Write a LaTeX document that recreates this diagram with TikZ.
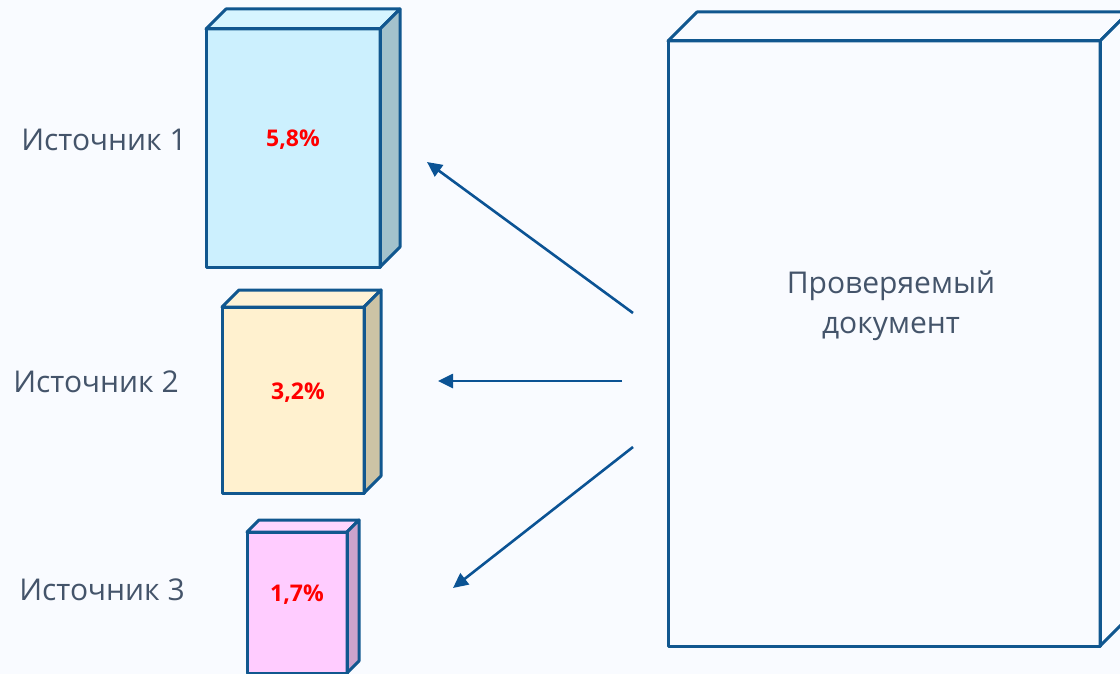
\documentclass[tikz,border=0pt]{standalone}
\usepackage{fontspec}
\setmainfont{Open Sans}
\usetikzlibrary{arrows.meta,calc}
\definecolor{bgc}{HTML}{F9FBFF}
\definecolor{edge}{HTML}{11578F}
\definecolor{arrc}{HTML}{0B5394}
\definecolor{txt}{HTML}{44546A}
\definecolor{pct}{HTML}{FF0000}
\definecolor{aF}{HTML}{CCF0FE}
\definecolor{aT}{HTML}{D6F5FF}
\definecolor{aS}{HTML}{A3C2CC}
\definecolor{bF}{HTML}{FFF1CF}
\definecolor{bT}{HTML}{FFF3D6}
\definecolor{bS}{HTML}{CCC3A5}
\definecolor{cF}{HTML}{FFCCFF}
\definecolor{cT}{HTML}{FFD6FF}
\definecolor{cS}{HTML}{CCA3CC}
\tikzset{
  boxface/.style={draw=edge, line width=3pt, line join=round},
  srclabel/.style={text=txt, font=\fontsize{30}{34}\selectfont, inner sep=0pt},
  pctlabel/.style={text=pct, font=\fontsize{23}{27}\selectfont\bfseries, inner sep=0pt},
  doclabel/.style={text=txt, font=\fontsize{30}{40}\selectfont, align=center, inner sep=0pt},
  link/.style={draw=arrc, line width=2.6pt, -{Triangle[length=15pt,width=14pt]}}
}
% #1 x1, #2 y1 (top), #3 x2, #4 y2 (bottom), #5 depth, #6 front, #7 top, #8 side
\newcommand\cuboidbox[8]{%
  \fill[#6] (#1,#2) rectangle (#3,#4);
  \filldraw[boxface, fill=#7] (#1,#2) -- ++(#5,-#5) -- ($(#3,#2)+(#5,-#5)$) -- (#3,#2) -- cycle;
  \filldraw[boxface, fill=#8] (#3,#2) -- ++(#5,-#5) -- ($(#3,#4)+(#5,-#5)$) -- (#3,#4) -- cycle;
  \draw[boxface] (#1,#2) rectangle (#3,#4);
}
\begin{document}
\begin{tikzpicture}[x=1pt, y=-1pt]
  \fill[bgc] (0,0) rectangle (1120,674);
  \useasboundingbox (0,0) rectangle (1120,674);
  \begin{scope}
    \clip (0,0) rectangle (1120,674);
    % source boxes
    \cuboidbox{206}{29}{380}{267}{20}{aF}{aT}{aS}
    \cuboidbox{222}{307}{364}{493}{17}{bF}{bT}{bS}
    \cuboidbox{247}{532}{347}{673}{12}{cF}{cT}{cS}
    % checked document
    \cuboidbox{668}{41}{1100}{646}{29}{bgc}{bgc}{bgc}
  \end{scope}
  % labels
  \node[pctlabel] (p1) at (293,140) {5,8\%};
  \node[pctlabel] (p2) at (298,393) {3,2\%};
  \node[pctlabel] (p3) at (297,595) {1,7\%};
  \node[srclabel] (s1) at (104,140) {Источник 1};
  \node[srclabel] (s2) at (96,382) {Источник 2};
  \node[srclabel] (s3) at (102,590) {Источник 3};
  \node[doclabel] (doc) at (891,306) {Проверяемый\\документ};
  % arrow ends
  \coordinate (a1s) at (633,313);
  \coordinate (a1e) at (427,162);
  \coordinate (a2s) at (622,381);
  \coordinate (a2e) at (438,381);
  \coordinate (a3s) at (633,447);
  \coordinate (a3e) at (453,588);
  \draw[link] (a1s) -- (a1e);
  \draw[link] (a2s) -- (a2e);
  \draw[link] (a3s) -- (a3e);
\end{tikzpicture}
\end{document}
